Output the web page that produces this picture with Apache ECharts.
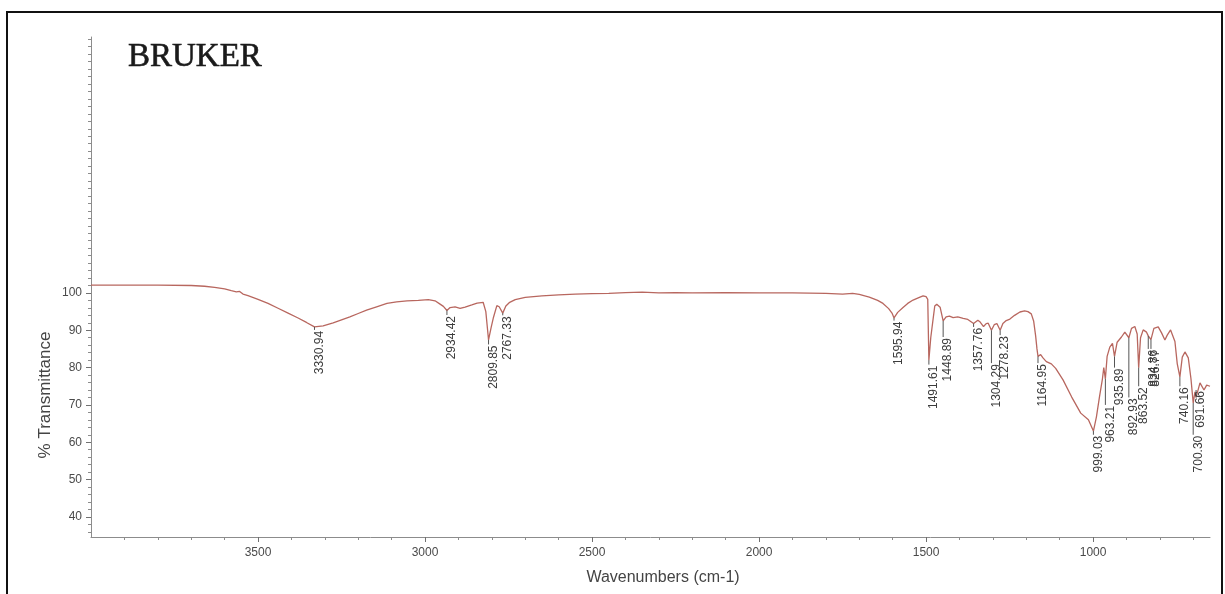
<!DOCTYPE html>
<html>
<head>
<meta charset="utf-8">
<script src="https://cdn.jsdelivr.net/npm/echarts@6/dist/echarts.min.js"></script>
<style>
  html, body { margin: 0; padding: 0; background: #fff; }
  #chart { width: 1225px; height: 594px; }
</style>
</head>
<body>
<div id="chart"></div>
<script>
// FT-IR spectrum: wavenumber (cm-1) vs % transmittance
const wavenumbers = [
  4000, 3900, 3800, 3700, 3660, 3630, 3600, 3580, 3565, 3555, 3545, 3530, 3500, 3470, 3440, 3410, 3380, 3355,
  3330.94, 3305, 3275, 3250, 3225, 3200, 3175, 3145, 3114, 3085, 3054, 3020, 2990, 2970, 2955, 2945,
  2934.42, 2925, 2910, 2895, 2880, 2860, 2844, 2826, 2818, 2809.85, 2802, 2795, 2785, 2778, 2767.33, 2758,
  2748, 2730, 2700, 2650, 2600, 2550, 2500, 2450, 2400, 2350, 2300, 2250, 2200, 2100, 2000, 1900, 1800,
  1750, 1720, 1700, 1670, 1645, 1629, 1612, 1602, 1595.94, 1585, 1569, 1555, 1539, 1520, 1509, 1500, 1495,
  1491.61, 1486, 1479, 1474, 1468, 1458, 1448.89, 1440, 1430, 1419, 1405, 1389, 1375, 1357.76, 1345, 1338,
  1328, 1320, 1314, 1304.29, 1296, 1288, 1278.23, 1270, 1260, 1249, 1235, 1219, 1205, 1195, 1185, 1178,
  1172, 1168, 1164.95, 1157, 1150, 1140, 1125, 1112, 1090, 1064, 1037, 1014, 999.03, 990, 981, 972, 968,
  963.21, 958, 950, 942, 935.89, 928, 915, 905, 892.93, 885, 875, 868, 863.52, 858, 850, 840, 834.86,
  826.77, 818, 805, 795, 785, 778, 768, 755, 748, 740.16, 733, 725, 715, 707, 700.30, 695, 691.66, 680,
  668, 660, 650
];
const transmittance = [
  102.1, 102.1, 102.1, 102.0, 101.8, 101.5, 101.1, 100.6, 100.3, 100.4, 99.7, 99.3, 98.3, 97.2, 95.9, 94.6, 93.3, 92.1,
  90.9, 91.2, 92.0, 92.8, 93.6, 94.5, 95.4, 96.3, 97.2, 97.6, 97.9, 98.0, 98.2, 97.9, 97.0, 96.4,
  95.3, 96.1, 96.3, 95.9, 96.2, 96.8, 97.3, 97.5, 95.0, 87.4, 90.8, 93.5, 96.6, 96.3, 94.6, 96.5,
  97.4, 98.2, 98.8, 99.2, 99.5, 99.7, 99.8, 99.9, 100.1, 100.2, 100.0, 100.1, 100.0, 100.1, 100.0, 100.0, 99.9,
  99.7, 99.9, 99.6, 98.9, 98.0, 97.2, 95.8, 94.6, 93.3, 94.8, 96.1, 97.2, 98.1, 98.8, 99.2, 99.0, 98.3,
  82.0, 88.0, 93.0, 96.5, 97.0, 96.2, 92.5, 93.6, 93.8, 93.4, 93.6, 93.2, 92.9, 91.8, 92.7, 92.2,
  91.0, 91.8, 91.9, 90.0, 91.5, 91.8, 90.0, 91.8, 92.6, 93.0, 94.0, 94.9, 95.2, 95.0, 94.4, 92.5,
  88.5, 85.0, 83.0, 83.5, 82.6, 81.6, 81.0, 79.8, 76.7, 72.1, 67.8, 66.0, 63.0, 66.8, 72.1, 77.0, 80.0,
  77.0, 83.0, 85.5, 86.5, 83.0, 86.8, 88.2, 89.5, 88.0, 90.5, 91.0, 89.0, 80.0, 88.0, 90.1, 89.5, 88.5,
  87.5, 90.5, 90.9, 89.3, 87.4, 88.7, 90.1, 87.0, 81.0, 77.5, 82.8, 84.2, 82.6, 77.0, 70.5, 73.5, 72.0, 75.9,
  74.0, 75.3, 75.0
];

// Annotated peaks: position, printed label, and the transmittance where the label text begins
const peakWavenumbers = [3330.94, 2934.42, 2809.85, 2767.33, 1595.94, 1491.61, 1448.89, 1357.76, 1304.29, 1278.23,
  1164.95, 999.03, 963.21, 935.89, 892.93, 863.52, 834.86, 826.77, 740.16, 700.30, 691.66];
const peakLabels = ['3330.94', '2934.42', '2809.85', '2767.33', '1595.94', '1491.61', '1448.89', '1357.76', '1304.29', '1278.23',
  '1164.95', '999.03', '963.21', '935.89', '892.93', '863.52', '834.86', '826.77', '740.16', '700.30', '691.66'];
const peakLabelTops = [90.1, 94.1, 86.2, 94.0, 92.6, 80.8, 88.2, 90.9, 81.2, 88.7,
  81.2, 62.0, 70.0, 80.0, 72.0, 75.0, 85.0, 85.0, 75.0, 62.0, 74.0];

// Axis tick values
const xTickLabels = [3500, 3000, 2500, 2000, 1500, 1000];
const yTickLabels = [40, 50, 60, 70, 80, 90, 100];

const X_MIN = 650, X_MAX = 4000;
const Y_MIN = 34.6, Y_MAX = 168.6;

const xMinorTicks = [];
for (let v = 700; v <= 3900; v += 100) xMinorTicks.push(v);
const yMinorTicks = [];
for (let v = 36; v <= 168; v += 2) yMinorTicks.push(v);

const spectrum = wavenumbers.map((w, i) => [w, transmittance[i]]);
const peakData = peakWavenumbers.map((w, i) => {
  const idx = wavenumbers.indexOf(w);
  return [w, transmittance[idx], peakLabelTops[i]];
});

const axisGray = '#8c8c8c';
const labelGray = '#4a4a4a';
const plainNumber = v => String(v);

const chart = echarts.init(document.getElementById('chart'), null, { renderer: 'canvas' });

chart.setOption({
  animation: false,
  backgroundColor: '#ffffff',
  grid: { left: 91, right: 15, top: 37, bottom: 57, containLabel: false, outerBoundsMode: 'none' },
  xAxis: [
    {
      type: 'value', inverse: true, min: X_MIN, max: X_MAX,
      axisLine: { show: true, lineStyle: { color: axisGray, width: 1 } },
      axisTick: { show: true, length: 3, customValues: xMinorTicks, lineStyle: { color: axisGray } },
      axisLabel: { show: true, customValues: xTickLabels, margin: 10, color: labelGray, formatter: plainNumber,
        fontSize: 12, fontFamily: 'Liberation Sans, Arial, sans-serif' },
      splitLine: { show: false }
    },
    {
      type: 'value', inverse: true, min: X_MIN, max: X_MAX, position: 'bottom',
      axisLine: { show: false },
      axisTick: { show: true, length: 5, customValues: xTickLabels, lineStyle: { color: '#707070' } },
      axisLabel: { show: false },
      splitLine: { show: false }
    }
  ],
  yAxis: [
    {
      type: 'value', min: Y_MIN, max: Y_MAX,
      axisLine: { show: true, lineStyle: { color: axisGray, width: 1 } },
      axisTick: { show: true, length: 3, customValues: yMinorTicks, lineStyle: { color: axisGray } },
      axisLabel: { show: true, customValues: yTickLabels, margin: 9, color: labelGray, formatter: plainNumber,
        fontSize: 12, fontFamily: 'Liberation Sans, Arial, sans-serif' },
      splitLine: { show: false }
    },
    {
      type: 'value', min: Y_MIN, max: Y_MAX, position: 'left',
      axisLine: { show: false },
      axisTick: { show: true, length: 5, customValues: yTickLabels, lineStyle: { color: '#707070' } },
      axisLabel: { show: false },
      splitLine: { show: false }
    }
  ],
  series: [
    {
      type: 'line',
      data: spectrum,
      showSymbol: false,
      smooth: false,
      lineStyle: { color: '#b8675f', width: 1.3 },
      z: 3
    },
    {
      type: 'custom',
      data: peakData,
      z: 4,
      renderItem: function (params, api) {
        const w = api.value(0);
        const top = api.coord([w, api.value(1)]);
        const lab = api.coord([w, api.value(2)]);
        return {
          type: 'group',
          children: [
            {
              type: 'line',
              shape: { x1: top[0], y1: top[1], x2: lab[0], y2: lab[1] },
              style: { stroke: '#555555', lineWidth: 1 }
            },
            {
              type: 'text',
              x: lab[0] + 5, y: lab[1] + 1,
              rotation: Math.PI / 2,
              style: {
                text: peakLabels[params.dataIndex],
                align: 'right', verticalAlign: 'middle',
                fill: '#3c3c3c',
                font: '12px "Liberation Sans", Arial, sans-serif'
              }
            }
          ]
        };
      }
    }
  ],
  graphic: [
    {
      type: 'rect', silent: true,
      shape: { x: 7, y: 12, width: 1215, height: 592 },
      style: { fill: 'none', stroke: '#111111', lineWidth: 2 }
    },
    {
      type: 'text', x: 128, y: 57,
      style: { text: 'BRUKER', fill: '#1a1a1a', stroke: '#1a1a1a', lineWidth: 0.6,
        font: '33px "Liberation Serif", "DejaVu Serif", serif',
        align: 'left', verticalAlign: 'middle' }
    },
    {
      type: 'text', x: 45, y: 395, rotation: Math.PI / 2,
      style: { text: '% Transmittance', fill: '#444444', font: '17px "Liberation Sans", Arial, sans-serif',
        align: 'center', verticalAlign: 'middle' }
    },
    {
      type: 'text', x: 663, y: 578,
      style: { text: 'Wavenumbers (cm-1)', fill: '#444444', font: '16px "Liberation Sans", Arial, sans-serif',
        align: 'center', verticalAlign: 'middle' }
    }
  ]
});
</script>
</body>
</html>
